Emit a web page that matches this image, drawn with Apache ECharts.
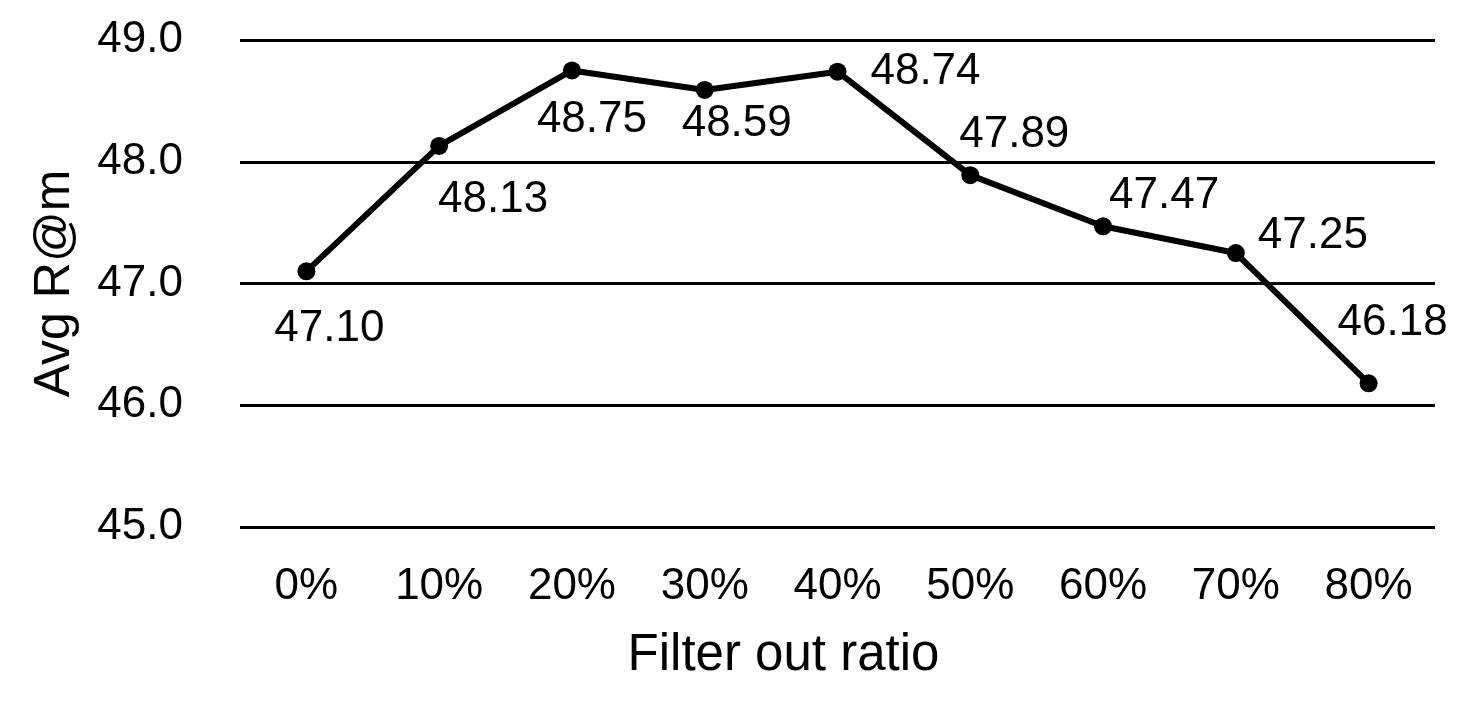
<!DOCTYPE html>
<html>
<head>
<meta charset="utf-8">
<title>Filter out ratio</title>
<script src="https://cdn.jsdelivr.net/npm/echarts@6/dist/echarts.min.js"></script>
<style>
  html, body { margin: 0; padding: 0; background: #fff; }
  #chart { width: 1461px; height: 703px; }
</style>
</head>
<body>
<div id="chart"></div>
<script>
// data
const ratios = ["0%", "10%", "20%", "30%", "40%", "50%", "60%", "70%", "80%"];
const avgRecall = [47.10, 48.13, 48.75, 48.59, 48.74, 47.89, 47.47, 47.25, 46.18];

// where each value label sits relative to its point (px)
const labelOffsets = [
  [23, 58], [54, 54], [20, 49], [32, 34], [88, 0],
  [44, -40], [61, -30], [77, -17], [24, -60]
];

const font = "Liberation Sans, Arial, Helvetica, sans-serif";

let myChart = echarts.init(document.getElementById("chart"));
let option = {
  animation: false,
  textStyle: { fontFamily: font },
  grid: {
    left: 240,
    right: 26,
    top: 40,
    bottom: 176,
  },
  xAxis: {
    type: "category",
    data: ratios,
    name: "Filter out ratio",
    nameLocation: "middle",
    nameGap: 103,
    // title sits a bit left of the plot centre in the original
    nameTextStyle: { fontSize: 51, color: "#000", fontFamily: font, padding: [0, 108, 0, 0] },
    axisLine: { show: false },
    axisTick: { show: false },
    axisLabel: { fontSize: 44, color: "#000", margin: 38, fontFamily: font },
  },
  yAxis: {
    type: "value",
    min: 45,
    max: 49,
    interval: 1,
    name: "Avg R@m",
    nameLocation: "middle",
    nameGap: 160,
    nameTextStyle: { fontSize: 50, color: "#000", fontFamily: font },
    axisLine: { show: false },
    axisTick: { show: false },
    axisLabel: {
      fontSize: 44,
      color: "#000",
      margin: 57,
      fontFamily: font,
      formatter: (v) => v.toFixed(1),
    },
    splitLine: { lineStyle: { color: "#000", width: 3 } },
  },
  series: [
    {
      type: "line",
      data: avgRecall.map((v, i) => ({
        value: v,
        label: { offset: labelOffsets[i] },
      })),
      lineStyle: { color: "#000", width: 6 },
      itemStyle: { color: "#000" },
      symbol: "circle",
      symbolSize: 18,
      label: {
        show: true,
        position: "inside",
        fontSize: 44,
        color: "#000",
        fontFamily: font,
        formatter: (p) => p.value.toFixed(2),
      },
    },
  ],
};
myChart.setOption(option, true);
</script>
</body>
</html>
